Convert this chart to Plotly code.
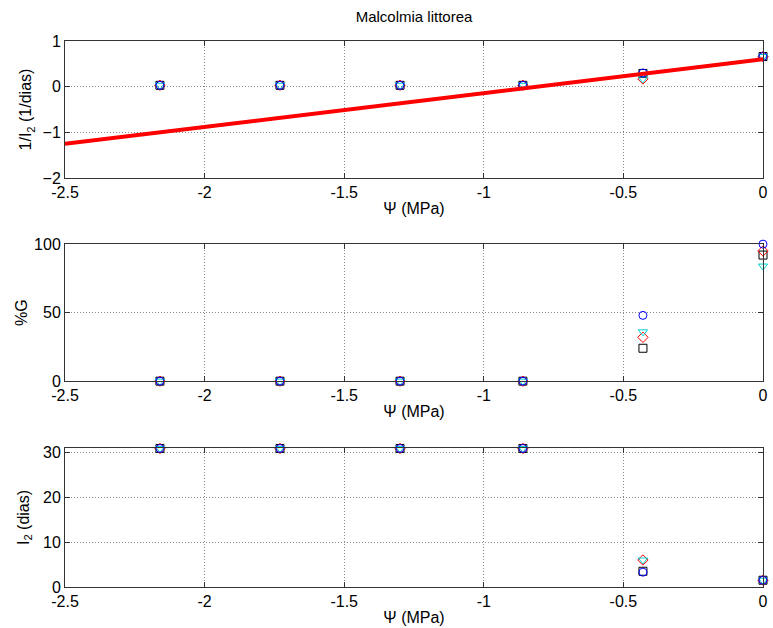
import plotly.graph_objects as go
from plotly.subplots import make_subplots

# ---- data ----
psi = [-2.16, -1.73, -1.30, -0.86, -0.43, 0.0]

inv_I2_circle = [0.03, 0.03, 0.03, 0.03, 0.30, 0.66]
inv_I2_diamond = [0.03, 0.03, 0.03, 0.03, 0.17, 0.66]
inv_I2_triangle = [0.03, 0.03, 0.03, 0.03, 0.17, 0.66]
inv_I2_square = [0.03, 0.03, 0.03, 0.03, 0.29, 0.66]

fit_x = [-2.5, 0.0]
fit_y = [-1.25, 0.60]

G_circle = [0, 0, 0, 0, 48, 100]
G_diamond = [0, 0, 0, 0, 32, 95]
G_triangle = [0, 0, 0, 0, 36, 84]
G_square = [0, 0, 0, 0, 24, 92]

I2_circle = [30.8, 30.8, 30.8, 30.8, 3.3, 1.5]
I2_diamond = [30.8, 30.8, 30.8, 30.8, 6.0, 1.5]
I2_triangle = [30.8, 30.8, 30.8, 30.8, 6.0, 1.5]
I2_square = [30.8, 30.8, 30.8, 30.8, 3.5, 1.5]

x_ticks = [-2.5, -2, -1.5, -1, -0.5, 0]
x_ticklabels = ["-2.5", "-2", "-1.5", "-1", "-0.5", "0"]

title_text = "Malcolmia littorea"

styles = [
    ("square", "#000000"),
    ("diamond", "#ff0000"),
    ("triangle-down", "#00d0d0"),
    ("circle", "#0000ff"),
]

fig = make_subplots(rows=3, cols=1)

panels = [
    (1, [inv_I2_square, inv_I2_diamond, inv_I2_triangle, inv_I2_circle]),
    (2, [G_square, G_diamond, G_triangle, G_circle]),
    (3, [I2_square, I2_diamond, I2_triangle, I2_circle]),
]

for row, series in panels:
    for ys, (sym, col) in zip(series, styles):
        fig.add_trace(go.Scatter(
            x=psi, y=ys, mode="markers", cliponaxis=False,
            marker=dict(symbol=sym + "-open", size=8, color=col, line=dict(width=1, color=col)),
            showlegend=False), row=row, col=1)
    if row == 1:
        fig.add_trace(go.Scatter(x=fit_x, y=fit_y, mode="lines",
                                 line=dict(color="#ff0000", width=4),
                                 showlegend=False), row=1, col=1)

font = dict(family="Liberation Sans, Arial, sans-serif", size=16, color="#000")

domains = [[0.749, 1.0], [0.377, 0.628], [0.0, 0.2546]]
yranges = [[-2, 1], [0, 100], [0, 30.9]]
ydtick = [1, 50, 10]
ytitles = ["1/I<sub>2</sub> (1/dias)", "%G", "I<sub>2</sub> (dias)"]
ystandoff = [6, 2, 9]

for i in range(3):
    fig.update_xaxes(
        row=i + 1, col=1, range=[-2.5, 0], tickvals=x_ticks, ticktext=x_ticklabels,
        ticks="inside", ticklen=5, tickcolor="#333", showline=True, linecolor="#333",
        linewidth=1, mirror="ticks", showgrid=True, gridcolor="#888",
        griddash="1px,2px", gridwidth=1, zeroline=False, tickfont=font,
        title=dict(text="Ψ (MPa)", font=font, standoff=2))
    fig.update_yaxes(
        row=i + 1, col=1, range=yranges[i], dtick=ydtick[i], domain=domains[i],
        ticks="inside", ticklen=5, tickcolor="#333", showline=True, linecolor="#333",
        linewidth=1, mirror="ticks", showgrid=True, gridcolor="#888",
        griddash="1px,2px", gridwidth=1, zeroline=False, tickfont=font,
        title=dict(text=ytitles[i], font=font, standoff=ystandoff[i]))

fig.update_layout(
    width=773, height=628,
    margin=dict(l=65, r=5, t=41, b=41),
    paper_bgcolor="white", plot_bgcolor="white",
    font=font,
    title=dict(text=title_text, x=0.5, xref="paper", xanchor="center",
               y=0.973, yanchor="middle", font=dict(family="Liberation Sans, Arial, sans-serif", size=15, color="#000")),
)

fig.write_html("out.html", config={"displayModeBar": False},
               post_script="document.body.style.margin='0';document.body.style.overflow='hidden';")
